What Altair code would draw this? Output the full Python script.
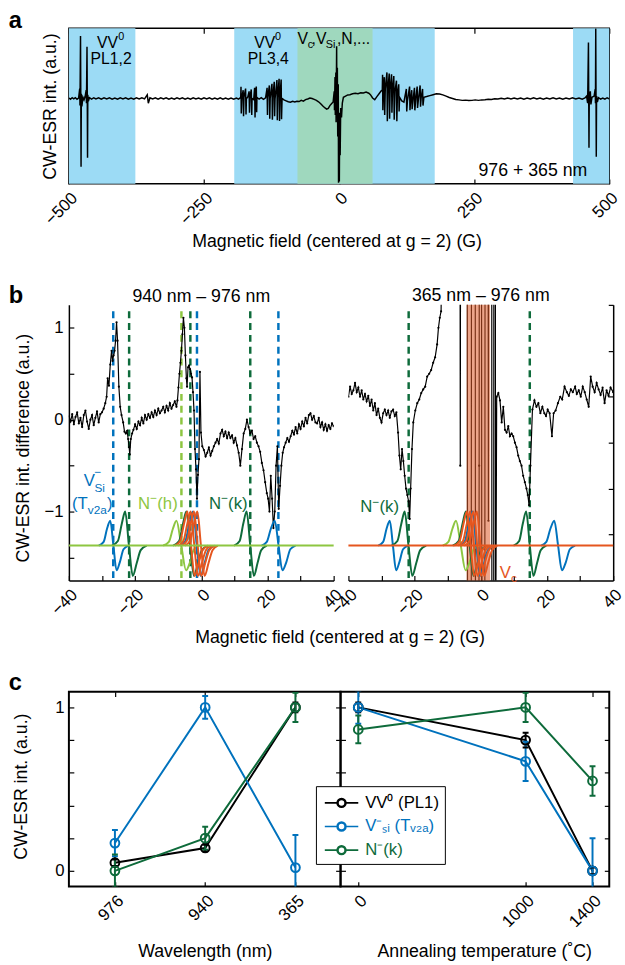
import altair as alt
import pandas as pd

FONT = "Liberation Sans"
BLUE = "#0072BD"
DKGREEN = "#0E6B3B"
LTGREEN = "#8DC641"
ORANGE = "#E5561F"
SHADE_BLUE = "#9CDBF5"
SHADE_GREEN = "#9FD8BE"
SHADE_ORANGE = "#DE5B2A"
TICK = 5

# ---------------- panel a data ----------------
A_TRACE = [
    (-500, 0.02), (-497, -0.03), (-494, 0.03), (-491, -0.02), (-488, 0.03), (-485, -0.03), (-482, 0.02),
    (-480, 0.42), (-479.5, -0.3), (-478.5, 2.64), (-478, 0.1), (-477.5, -2.88), (-477, 0.2), (-476, -0.33),
    (-474, 0.05), (-472, -0.06), (-470, 0.08), (-468, 0.35), (-467.5, -0.2), (-466.5, 2.18), (-466, 0.1),
    (-465.5, -2.5), (-465, 0.15), (-464, -0.12), (-462, 0.03), (-458, -0.03), (-454, 0.03), (-450, -0.02),
    (-445, 0.03), (-440, -0.03), (-435, 0.03), (-430, -0.02), (-425, 0.03), (-420, -0.03), (-415, 0.02),
    (-410, -0.03), (-405, 0.03), (-400, -0.02), (-395, 0.03), (-390, -0.03), (-385, 0.02), (-380, -0.03),
    (-375, 0.03), (-370, -0.02), (-365, 0.03), (-360, -0.02), (-355, 0.15), (-353, -0.2), (-350, 0.03),
    (-345, -0.02), (-340, 0.03), (-335, -0.03), (-330, 0.03), (-325, -0.02), (-320, 0.03), (-315, -0.03),
    (-310, 0.02), (-305, -0.03), (-300, 0.03), (-295, -0.02), (-290, 0.03), (-285, -0.03), (-280, 0.02),
    (-275, -0.03), (-270, 0.03), (-265, -0.02), (-260, 0.02), (-255, -0.03), (-250, 0.03), (-245, -0.02),
    (-240, 0.03), (-235, -0.03), (-230, 0.02), (-225, -0.03), (-220, 0.03), (-215, -0.03), (-210, 0.02),
    (-205, -0.03), (-200, 0.02), (-195, -0.03), (-190, 0.02), (-186, -0.03),
    (-182, 0.05), (-181.5, 0.49), (-181, -0.63), (-180, 0.02), (-177.5, 0.35), (-176.8, -0.75), (-176, 0.05),
    (-173, 0.42), (-172.2, -0.68), (-171.5, -0.02), (-169, 0.06), (-166.5, 0.3), (-165.8, -0.6), (-165, 0.04),
    (-162.5, 0.38), (-161.6, -0.7), (-161, 0.0), (-158, -0.05), (-156.3, 0.45), (-155.5, -0.8), (-155, 0.04),
    (-153.2, 0.5), (-152.5, -0.58), (-152, 0.05), (-148, -0.03), (-144, 0.03), (-140, -0.04), (-136, 0.03),
    (-133.2, 0.45), (-132.5, -0.7), (-132, 0.03), (-129, 0.55), (-128.3, -0.85), (-127.5, 0.0),
    (-124.2, 0.62), (-123.4, -0.9), (-122.5, 0.05), (-120, 0.7), (-119.3, -0.75), (-118.5, -0.02),
    (-115, 0.78), (-114.3, -0.92), (-113.5, 0.04), (-111, 0.83), (-110.2, -0.95), (-109.5, 0.02),
    (-107.2, 0.8), (-106.5, -0.88), (-105.5, 0.0), (-102, -0.06), (-98, -0.1), (-94, -0.14), (-90, -0.16),
    (-86, -0.12), (-82, -0.15), (-78, -0.12), (-74, -0.13), (-70, -0.08), (-66, -0.11), (-62, -0.05),
    (-58, -0.02), (-54, 0.02), (-50, 0.0), (-46, -0.04), (-42, -0.08), (-38, -0.14), (-34, -0.22),
    (-30, -0.32), (-26, -0.4), (-23, -0.45), (-20, -0.42), (-17, -0.3), (-14, -0.22), (-11, -0.15),
    (-9, 0.3), (-8.5, -0.5), (-7.5, 0.9), (-7, -0.7), (-6, 1.1), (-5.5, -1.0), (-4.5, 2.2), (-4, -0.6),
    (-3.2, 1.3), (-2.5, -1.6), (-1.5, 0.6), (-1, -3.55), (0, -2.2), (0.5, -3.5), (1.2, -0.6), (2, -2.4),
    (3, -0.4), (4.5, -0.8), (6, -0.2), (8, 0.05), (12, 0.1), (16, 0.15), (20, 0.16), (25, 0.2), (30, 0.22),
    (35, 0.2), (40, 0.24), (45, 0.23), (50, 0.27), (55, 0.22), (58, 0.16), (62, 0.02), (66, -0.05),
    (70, 0.08), (74, 0.2), (78, 0.32),
    (80, 0.35), (80.5, 1.0), (81, -0.5), (82, 0.38), (83.7, 0.9), (84.4, -0.7), (85.5, 0.4), (88.6, 1.1),
    (89.3, -0.96), (90.5, 0.42), (92.8, 1.05), (93.5, -0.85), (94.5, 0.4), (97.1, 1.02), (97.8, -0.6),
    (99, 0.38), (101.3, 0.95), (102, -0.9), (103.5, 0.3), (106.2, 0.75), (106.9, -0.96), (108, 0.2),
    (110.4, 0.6), (111.1, -0.55), (112, 0.05), (116, -0.1), (120, -0.15),
    (124.5, 0.4), (125.2, -0.55), (126.5, -0.1), (130.5, 0.5), (131.2, -0.5), (132.5, -0.05), (134.5, 0.35),
    (135.2, -0.45), (137, -0.05), (139.5, 0.45), (140.2, -0.5), (142, 0.0), (144.5, 0.5), (145.2, -0.4),
    (147, 0.0), (150, 0.55), (150.7, -0.35), (152, 0.05), (154.5, 0.4), (155.3, -0.3), (157, 0.05),
    (162, 0.08), (168, 0.12), (174, 0.16), (180, 0.2), (186, 0.19), (192, 0.15), (198, 0.1), (204, 0.04),
    (210, 0.0), (216, -0.04), (222, -0.06), (228, -0.08), (234, -0.07), (240, -0.09), (246, -0.08),
    (252, -0.06), (258, -0.08), (264, -0.06), (270, -0.05), (276, -0.03), (282, -0.04), (288, -0.01),
    (294, -0.02), (300, 0.01), (306, -0.02), (312, 0.02), (318, -0.02), (324, 0.02), (330, -0.02),
    (336, 0.02), (342, -0.03), (348, 0.02), (354, -0.02), (360, 0.03), (366, -0.02), (372, 0.02),
    (378, -0.03), (384, 0.02), (390, -0.02), (396, 0.03), (402, -0.02), (408, 0.02), (414, -0.03),
    (420, 0.02), (426, -0.02), (432, 0.03), (438, -0.02), (444, 0.02), (450, -0.03), (455, 0.02),
    (458, 0.1), (460, -0.2), (461.5, 2.36), (462, 0.1), (462.5, -2.08), (463, 0.05), (465, 0.3),
    (466, -0.25), (468, 0.05), (472, 0.1), (474, 0.4), (474.5, -0.2), (475, 2.95), (475.5, 0.2),
    (476, -2.46), (476.5, 0.1), (478, -0.15), (480, 0.03), (484, -0.03), (488, 0.02), (492, -0.03),
    (496, 0.03), (500, -0.02),
]
A_SHADE_FROM = [-500, -194, 433, -77]
A_SHADE_TO = [-377, 177, 500, 62]
A_SHADE_KIND = ["VV0", "VV0", "VV0", "mixed"]
A_TEXT = ["VV", "PL1,2", "VV", "PL3,4", "V", ",V", ",N,..."]
A_TEXT_X = [-448, -460, -157, -169, -77, -51, -4]
A_TEXT_Y = [2.15, 1.46, 2.15, 1.46, 2.29, 2.29, 2.29]
A_SMALL = ["0", "0", "c", "Si"]
A_SMALL_X = [-408.5, -118.7, -58, -24.5]
A_SMALL_Y = [2.46, 2.46, 2.12, 2.12]
A_NOTE = ["976 + 365 nm"]
A_NOTE_X = [258]
A_NOTE_Y = [-3.26]
A_XTICKS = [-500, -250, 0, 250, 500]
A_YTICKS = [-3, -2, -1, 0, 1, 2]

# ---------------- panel b data ----------------
B_LEFT_TRACE = [
    (-40, 0.04), (-39.5, -0.02), (-39, 0.06), (-38.5, -0.05), (-38, 0.03), (-37.5, 0.08), (-37, -0.04),
    (-36.5, 0.02), (-36, -0.08), (-35.5, 0.05), (-35, 0.1), (-34.5, -0.02), (-34, -0.1), (-33.5, 0.0),
    (-33, 0.05), (-32.5, -0.06), (-32, 0.02), (-31.5, 0.09), (-31, -0.03), (-30.5, 0.06), (-30, 0.08),
    (-29.5, 0.12), (-29, 0.18), (-28.6, 0.25), (-28.3, 0.45), (-27.9, 0.37), (-27.5, 0.6), (-27.1, 0.75),
    (-26.8, 0.64), (-26.5, 0.7), (-26.2, 0.75), (-25.9, 0.86), (-25.6, 1.06), (-25.3, 0.86), (-24.9, 0.36),
    (-24.5, 0.14), (-24.1, 0.05), (-23.6, -0.03), (-23.2, -0.13), (-22.8, -0.15), (-22.4, -0.12),
    (-22.1, -0.21), (-21.8, -0.3), (-21.6, -0.38), (-21.3, -0.21), (-20.9, -0.15), (-20.5, -0.11),
    (-20.0, -0.05), (-19.5, -0.1), (-19.0, -0.02), (-18.5, -0.06), (-18.0, 0.02), (-17.5, -0.04),
    (-17.0, 0.05), (-16.5, 0.0), (-16.0, 0.06), (-15.5, 0.02), (-15.0, 0.08), (-14.5, 0.03), (-14.0, 0.1),
    (-13.5, 0.05), (-13.0, 0.12), (-12.5, 0.07), (-12.0, 0.1), (-11.5, 0.14), (-11.0, 0.08), (-10.5, 0.15),
    (-10.0, 0.1), (-9.5, 0.18), (-9.0, 0.12), (-8.5, 0.16), (-8.0, 0.2), (-7.5, 0.14), (-7.2, 0.21),
    (-6.9, 0.35), (-6.6, 0.5), (-6.3, 0.62), (-6.0, 0.75), (-5.7, 0.93), (-5.4, 1.11), (-5.1, 1.0),
    (-4.8, 0.7), (-4.5, 0.45), (-4.3, 0.36), (-4.0, 0.57), (-3.7, 0.59), (-3.4, 0.55), (-3.1, 0.5),
    (-2.8, 0.46), (-2.5, 0.3), (-2.2, 0.1), (-1.9, -0.32), (-1.6, -0.54), (-1.3, -0.86), (-1.0, -0.6),
    (-0.7, -0.43), (-0.4, 0.52), (-0.1, -0.14), (0.3, -0.29), (0.8, -0.33), (1.3, -0.4), (1.8, -0.36),
    (2.3, -0.3), (2.8, -0.39), (3.3, -0.34), (3.8, -0.29), (4.3, -0.25), (4.8, -0.21), (5.3, -0.26),
    (5.8, -0.15), (6.3, -0.11), (6.8, -0.18), (7.3, -0.13), (7.8, -0.2), (8.3, -0.14), (8.8, -0.2),
    (9.3, -0.17), (9.8, -0.25), (10.3, -0.2), (10.8, -0.28), (11.3, -0.36), (11.8, -0.5), (12.3, -0.32),
    (12.8, -0.15), (13.3, -0.1), (13.8, 0.0), (14.3, -0.08), (14.8, -0.15), (15.3, -0.12), (15.8, -0.21),
    (16.3, -0.18), (16.8, -0.25), (17.3, -0.29), (17.8, -0.35), (18.3, -0.47), (18.8, -0.55), (19.3, -0.68),
    (19.8, -0.8), (20.2, -0.86), (20.6, -1.0), (21.0, -0.61), (21.4, -0.86), (21.8, -1.18), (22.2, -1.0),
    (22.6, -0.5), (23.0, -0.29), (23.4, -0.97), (23.8, -0.72), (24.2, -0.5), (24.6, -0.36), (25.0, -0.3),
    (25.5, -0.25), (26.0, -0.2), (26.5, -0.24), (27.0, -0.18), (27.5, -0.12), (28.0, -0.16), (28.5, -0.08),
    (29.0, -0.15), (29.5, -0.05), (30.0, -0.1), (30.5, -0.02), (31.0, -0.07), (31.5, 0.02), (32.0, -0.04),
    (32.5, 0.05), (33.0, 0.07), (33.5, 0.0), (34.0, 0.04), (34.5, -0.03), (35.0, -0.04), (35.5, 0.02),
    (36.0, -0.08), (36.5, -0.03), (37.0, -0.11), (37.5, -0.05), (38.0, -0.12), (38.5, -0.06), (39.0, -0.1),
    (39.5, -0.04), (40.0, -0.07),
]
B_RIGHT_TRACE = [
    (-40, 0.25), (-39.5, 0.36), (-39, 0.28), (-38.5, 0.32), (-38, 0.4), (-37.5, 0.3), (-37, 0.35),
    (-36.5, 0.25), (-36, 0.32), (-35.5, 0.22), (-35, 0.28), (-34.5, 0.2), (-34, 0.26), (-33.5, 0.15),
    (-33, 0.22), (-32.5, 0.1), (-32, 0.18), (-31.5, 0.05), (-31, 0.12), (-30.5, 0.02), (-30, -0.03),
    (-29.5, 0.07), (-29, 0.11), (-28.5, 0.05), (-28, 0.1), (-27.5, 0.02), (-27, 0.09), (-26.5, 0.11),
    (-26, 0.04), (-25.5, 0.08), (-25, -0.14), (-24.6, -0.39), (-24.2, -0.54), (-23.8, -0.32), (-23.4, -0.45),
    (-23.0, -0.61), (-22.6, -0.75), (-22.2, -0.82), (-21.8, -0.89), (-21.5, -1.08), (-21.2, -0.75),
    (-20.8, -0.32), (-20.4, -0.03), (-19.8, 0.1), (-19.2, 0.18), (-18.6, 0.22), (-18.0, 0.29), (-17.4, 0.33),
    (-16.8, 0.36), (-16.2, 0.47), (-15.6, 0.5), (-15.0, 0.54), (-14.4, 0.62), (-13.8, 0.68), (-13.2, 0.82),
    (-12.8, 1.0), (-12.4, 1.11), (-12.0, 1.18), (-11.5, 3.0), (-6.3, 3.0), (-6.2, -0.5), (-6.1, 3.0),
    (-4.1, 3.0), (-4.0, -3.0), (-2.9, -3.0), (-2.8, 3.0), (-1.7, 3.0), (-1.6, -3.0), (-0.6, -3.0),
    (-0.5, -0.5), (-0.45, 3.0), (0.2, 3.0), (0.3, -3.0), (1.2, -3.0), (1.3, 3.0), (2.2, 3.0), (2.3, -1.1),
    (2.35, 3.0), (3.3, 3.0), (3.35, -3.0), (3.9, -3.0), (3.95, 3.0), (4.4, 3.0), (4.45, -3.0),
    (4.8, 0.25), (5.3, 0.29), (5.8, 0.21), (6.3, -0.03), (6.8, 0.14),
    (7.3, -0.11), (7.8, -0.14), (8.3, -0.07), (8.8, -0.18), (9.3, -0.15), (9.8, -0.18), (10.3, -0.25),
    (10.8, -0.3), (11.3, -0.39), (11.8, -0.45), (12.3, -0.5), (12.8, -0.61), (13.3, -0.68), (13.8, -0.75),
    (14.2, -0.82), (14.6, -0.93), (15.0, -0.5), (15.6, 0.11), (16.2, 0.21), (16.8, 0.14), (17.4, 0.18),
    (18.0, 0.07), (18.6, 0.14), (19.2, 0.07), (19.7, 0.04), (20.2, 0.11), (20.8, 0.07), (21.5, -0.18),
    (22.0, 0.07), (22.6, 0.1), (23.3, 0.18), (24.0, 0.25), (24.6, 0.22), (25.3, 0.36), (26.0, 0.3),
    (26.6, 0.26), (27.2, 0.33), (27.8, 0.3), (28.5, 0.36), (29.0, 0.28), (29.6, 0.32), (30.2, 0.25),
    (30.8, 0.36), (31.4, 0.3), (32.0, 0.22), (32.6, 0.14), (33.2, 0.47), (33.8, 0.36), (34.4, 0.3),
    (35.0, 0.4), (35.6, 0.33), (36.2, 0.27), (36.8, 0.35), (37.4, 0.18), (38.0, 0.32), (38.6, 0.26),
    (39.2, 0.35), (40.0, 0.3),
]
PROFILE_SMALL = [-1.37, -1.33, -1.19, -1.10, -1.37, -1.64, -1.55, -1.41, -1.37]
PROFILE_LARGE = [-1.37, -1.32, -1.13, -1.00, -1.37, -1.70, -1.56, -1.42, -1.37]
B_COMP_SPECIES = ["VSi", "Nk", "Nh", "Nk", "VSi", "Vc", "Vc", "Vc", "Vc", "Nk", "VSi"]
B_COMP_X = [
    [-31.0, -29.5, -28.5, -27.5, -26.55, -25.6, -24.6, -23.5, -22.0],
    [-27.0, -25.2, -24.0, -23.0, -21.85, -20.7, -19.5, -18.3, -16.5],
    [-11.5, -9.8, -8.6, -7.5, -6.05, -4.6, -3.4, -2.2, -0.5],
    [-8.5, -6.7, -5.5, -4.5, -3.35, -2.2, -1.0, 0.2, 2.0],
    [-6.3, -4.8, -3.6, -2.5, -1.35, -0.2, 1.0, 2.2, 4.0],
    [-8.0, -6.4, -5.2, -4.2, -3.1, -2.0, -0.8, 0.4, 2.0],
    [-7.0, -5.4, -4.2, -3.2, -2.1, -1.0, 0.2, 1.4, 3.0],
    [-6.0, -4.4, -3.2, -2.2, -1.1, 0.0, 1.2, 2.4, 4.0],
    [-5.0, -3.4, -2.2, -1.2, -0.1, 1.0, 2.2, 3.4, 5.0],
    [9.9, 11.6, 12.7, 13.7, 14.8, 15.9, 17.0, 18.1, 19.8],
    [18.2, 19.8, 21.0, 22.2, 23.35, 24.5, 25.7, 26.9, 28.5],
]
B_COMP_Y = [PROFILE_SMALL, PROFILE_LARGE, PROFILE_SMALL, PROFILE_LARGE, PROFILE_LARGE, PROFILE_LARGE,
            PROFILE_LARGE, PROFILE_LARGE, PROFILE_LARGE, PROFILE_LARGE, PROFILE_SMALL]
B_BASELINE_X = [-40, 40]
B_BASELINE_Y = [-1.37, -1.37]
B_DASH_L_X = [-26.6, -1.3, 23.3, -21.8, -3.3, 14.8, -6.0]
B_DASH_L_SP = ["VSi", "VSi", "VSi", "Nk", "Nk", "Nk", "Nh"]
B_DASH_R_X = [-21.8, 14.8]
B_DASH_R_SP = ["Nk", "Nk"]
B_SHADE_FROM = [-4.3]
B_SHADE_TO = [2.8]
B_SPECIES = ["VSi", "Nk", "Nh", "Vc"]
B_SPECIES_COLORS = [BLUE, DKGREEN, LTGREEN, ORANGE]
B_L_MAIN = [("V", -35.5, -0.72, "VSi"), ("(T", -39.1, -0.97, "VSi"), (")", -28.5, -0.97, "VSi"),
            ("N", -19.1, -0.97, "Nh"), ("(h)", -13.3, -0.97, "Nh"),
            ("N", 2.3, -0.97, "Nk"), ("(k)", 8.1, -0.97, "Nk")]
B_L_SMALL = [("Si", -32.3, -0.79, "VSi"), ("−", -32.3, -0.61, "VSi"), ("v2a", -34.3, -1.03, "VSi"),
             ("−", -15.4, -0.9, "Nh"), ("−", 6.0, -0.9, "Nk")]
B_R_MAIN = [("N", -36.4, -1.0, "Nk"), ("(k)", -30.6, -1.0, "Nk"), ("V", 5.7, -1.72, "Vc")]
B_R_SMALL = [("−", -32.7, -0.94, "Nk"), ("c", 9.1, -1.77, "Vc")]
B_XTICKS = [-40, -30, -20, -10, 0, 10, 20, 30, 40]
B_YTICKS_L = [-1.5, -1, -0.5, 0, 0.5, 1]
B_YTICKS_R = [1.25, 0.75, 0.25, -0.25, -0.75, -1.25]

# ---------------- panel c data ----------------
C_SERIES = ["VV0", "VSi", "Nk"]
C_SERIES_COLORS = ["black", BLUE, DKGREEN]
C_SERIES_LABELS = ["VV⁰ (PL1)", "V⁻ₛᵢ (Tᵥ₂ₐ)", "N⁻(k)"]
C_WL_POS = [1, 2, 3]
C_WL_LABELS = ["976", "940", "365"]
C_WL_VV0 = [0.05, 0.14, 1.0]
C_WL_VV0_ERR = [0.02, 0.02, 0.03]
C_WL_VSI = [0.17, 1.0, 0.02]
C_WL_VSI_ERR = [0.08, 0.07, 0.2]
C_WL_NK = [0.0, 0.2, 1.0]
C_WL_NK_ERR = [0.1, 0.07, 0.09]
C_T = [0, 1000, 1400]
C_T_VV0 = [1.0, 0.8, 0.0]
C_T_VV0_ERR = [0.03, 0.045, 0.02]
C_T_VSI = [1.0, 0.67, 0.0]
C_T_VSI_ERR = [0.1, 0.12, 0.2]
C_T_NK = [0.865, 1.0, 0.55]
C_T_NK_ERR = [0.085, 0.09, 0.09]
C_YTICKS = [0, 0.2, 0.4, 0.6, 0.8, 1]


# ---------------- helpers ----------------
def tick_axis(orient, values, **kw):
    base = dict(orient=orient, values=values, domain=False, grid=False, ticks=True, tickSize=TICK,
                offset=-TICK, tickColor="black", tickWidth=1.2, labels=False, title=None)
    base.update(kw)
    return alt.Axis(**base)


def label_kw(expr=None, angle=False, pad=6):
    d = dict(labels=True, labelFontSize=17, labelFont=FONT, labelColor="black", labelPadding=pad,
             labelFlush=False, labelOverlap=False)
    if expr:
        d["labelExpr"] = expr
    if angle:
        d.update(labelAngle=-45, labelAlign="right", labelBaseline="top")
    return d


def title_kw(text, tx, ty):
    return dict(title=text, titleFont=FONT, titleFontSize=18, titleFontWeight="normal", titleColor="black",
                titleX=tx, titleY=ty, titleBaseline="alphabetic")


def domain_axis(orient, values):
    return alt.Axis(orient=orient, values=values, domain=True, domainColor="black", domainWidth=1.5,
                    ticks=False, labels=False, grid=False, title=None, offset=0)


def letter(text, dy):
    return alt.TitleParams(text, anchor="start", dx=-61, dy=dy, fontSize=24, fontWeight="bold", font=FONT,
                           offset=0, baseline="alphabetic", frame="group", color="black")


def xy(pairs):
    return pd.DataFrame(pairs, columns=["x", "y"])


def pieces(rows):
    return pd.DataFrame(rows, columns=["t", "x", "y", "sp"])


INT_LABEL = "format(datum.value, 'd')"

# ---------------- panel a ----------------
xa = alt.Scale(domain=[-500, 500], nice=False, zero=False)
ya = alt.Scale(domain=[-3.6, 2.96], nice=False, zero=False)

a_shade = alt.Chart(pd.DataFrame({"x0": A_SHADE_FROM, "x1": A_SHADE_TO, "kind": A_SHADE_KIND})).mark_rect().encode(
    x=alt.X("x0:Q", scale=xa, axis=None), x2="x1:Q",
    color=alt.Color("kind:N", scale=alt.Scale(domain=["VV0", "mixed"], range=[SHADE_BLUE, SHADE_GREEN]),
                    legend=None))
a_trace = alt.Chart(xy(A_TRACE)).mark_line(color="black", strokeWidth=1.5, clip=True).encode(
    x=alt.X("x:Q", scale=xa, axis=tick_axis("bottom", A_XTICKS, **label_kw(angle=True),
                                             **title_kw("Magnetic field (centered at g = 2) (G)", 272, 69))),
    y=alt.Y("y:Q", scale=ya, axis=tick_axis("left", A_YTICKS, **title_kw("CW-ESR int. (a.u.)", -19, 79))))
a_text = alt.Chart(pd.DataFrame({"x": A_TEXT_X, "y": A_TEXT_Y, "t": A_TEXT})).mark_text(
    align="left", baseline="alphabetic", fontSize=16, font=FONT, color="black").encode(
    x=alt.X("x:Q", scale=xa, axis=tick_axis("top", A_XTICKS)),
    y=alt.Y("y:Q", scale=ya, axis=tick_axis("right", A_YTICKS)), text="t:N")
a_small = alt.Chart(pd.DataFrame({"x": A_SMALL_X, "y": A_SMALL_Y, "t": A_SMALL})).mark_text(
    align="left", baseline="alphabetic", fontSize=11, font=FONT, color="black").encode(
    x=alt.X("x:Q", scale=xa, axis=None), y=alt.Y("y:Q", scale=ya, axis=None), text="t:N")
a_note = alt.Chart(pd.DataFrame({"x": A_NOTE_X, "y": A_NOTE_Y, "t": A_NOTE})).mark_text(
    align="left", baseline="alphabetic", fontSize=18, font=FONT, color="black").encode(
    x=alt.X("x:Q", scale=xa, axis=None), y=alt.Y("y:Q", scale=ya, axis=None), text="t:N")

panel_a = alt.layer(a_shade, a_trace, a_text, a_small, a_note).resolve_axis(
    x="independent", y="independent").properties(
    width=549, height=158, view=alt.ViewBackground(stroke="black", strokeWidth=1.5), title=letter("a", 24))

# ---------------- panel b ----------------
xb = alt.Scale(domain=[-40, 40], nice=False, zero=False)
yb = alt.Scale(domain=[-1.75, 1.25], nice=False, zero=False)
spc = alt.Scale(domain=B_SPECIES, range=B_SPECIES_COLORS)

comp_rows = []
for i, (sp, xs, ys) in enumerate(zip(B_COMP_SPECIES, B_COMP_X, B_COMP_Y)):
    for xv, yv in zip(xs, ys):
        comp_rows.append({"comp": i, "sp": sp, "x": xv, "y": yv})
comp_df = pd.DataFrame(comp_rows)
base_df = pd.DataFrame({"x": B_BASELINE_X, "y": B_BASELINE_Y})
XB_LABELS = "datum.value % 20 == 0 ? format(datum.value, 'd') : ''"
YB_LABELS = "datum.value % 1 == 0 ? format(datum.value, 'd') : ''"


def b_panel(trace, dash_x, dash_sp, main_rows, small_rows, side, base_color, shade, title):
    dash = alt.Chart(pd.DataFrame({"x": dash_x, "sp": dash_sp})).mark_rule(
        strokeDash=[7, 5], strokeWidth=2.5).encode(
        x=alt.X("x:Q", scale=xb, axis=None),
        y=alt.YDatum(1.18, scale=yb, axis=None), y2=alt.Y2Datum(-1.75),
        color=alt.Color("sp:N", scale=spc, legend=None))
    if side == "left":
        xax = tick_axis("bottom", B_XTICKS, **label_kw(expr=XB_LABELS, angle=True),
                        **title_kw("Magnetic field (centered at g = 2) (G)", 275, 68))
        yax = tick_axis("left", B_YTICKS_L, **label_kw(expr=YB_LABELS),
                        **title_kw("CW-ESR int. difference (a.u.)", -46, 145))
    else:
        xax = tick_axis("bottom", B_XTICKS, **label_kw(expr=XB_LABELS, angle=True))
        yax = tick_axis("right", B_YTICKS_R)
    tr = alt.Chart(xy(trace)).mark_line(
        color="black", strokeWidth=1.2, clip=True,
        point=alt.OverlayMarkDef(filled=True, size=5, color="black", opacity=1, clip=True)).encode(
        x=alt.X("x:Q", scale=xb, axis=xax), y=alt.Y("y:Q", scale=yb, axis=yax))
    curves = alt.Chart(comp_df).mark_line(strokeWidth=2, interpolate="monotone").encode(
        x=alt.X("x:Q", scale=xb, axis=domain_axis("bottom", B_XTICKS)),
        y=alt.Y("y:Q", scale=yb, axis=domain_axis(side, B_YTICKS_L)),
        color=alt.Color("sp:N", scale=spc, legend=None), detail="comp:N")
    base = alt.Chart(base_df).mark_line(strokeWidth=2, color=base_color).encode(
        x=alt.X("x:Q", scale=xb, axis=None), y=alt.Y("y:Q", scale=yb, axis=None))
    main = alt.Chart(pieces(main_rows)).mark_text(
        align="left", baseline="alphabetic", fontSize=17, font=FONT).encode(
        x=alt.X("x:Q", scale=xb, axis=None), y=alt.Y("y:Q", scale=yb, axis=None), text="t:N",
        color=alt.Color("sp:N", scale=spc, legend=None))
    small = alt.Chart(pieces(small_rows)).mark_text(
        align="left", baseline="alphabetic", fontSize=12, font=FONT).encode(
        x=alt.X("x:Q", scale=xb, axis=None), y=alt.Y("y:Q", scale=yb, axis=None), text="t:N",
        color=alt.Color("sp:N", scale=spc, legend=None))
    layers = [dash, tr]
    if shade:
        layers.append(alt.Chart(pd.DataFrame({"x0": B_SHADE_FROM, "x1": B_SHADE_TO})).mark_rect(
            color=SHADE_ORANGE, opacity=0.55).encode(x=alt.X("x0:Q", scale=xb, axis=None), x2="x1:Q"))
    layers += [curves, base, main, small]
    return alt.layer(*layers).resolve_axis(x="independent", y="independent").properties(
        width=269, height=280,
        title=alt.TitleParams(title, fontSize=18, fontWeight="normal", font=FONT, anchor="middle", offset=2,
                              dy=3, color="black"))


b_left = b_panel(B_LEFT_TRACE, B_DASH_L_X, B_DASH_L_SP, B_L_MAIN, B_L_SMALL, "left", LTGREEN, False,
                 "940 nm – 976 nm")
b_right = b_panel(B_RIGHT_TRACE, B_DASH_R_X, B_DASH_R_SP, B_R_MAIN, B_R_SMALL, "right", ORANGE, True,
                  "365 nm – 976 nm")
panel_b = alt.hconcat(b_left, b_right, spacing=15, bounds="flush").properties(title=letter("b", 40))


# ---------------- panel c ----------------
def c_frame(xs, vv0, vv0e, vsi, vsie, nk, nke):
    rows = []
    for name, vals, errs in (("VV0", vv0, vv0e), ("VSi", vsi, vsie), ("Nk", nk, nke)):
        for xv, v, e in zip(xs, vals, errs):
            rows.append({"x": xv, "y": v, "lo": v - e, "hi": v + e, "series": name})
    return pd.DataFrame(rows)


yc = alt.Scale(domain=[-0.096, 1.096], nice=False, zero=False)
# legend glyph: line segments either side of a ring (ring keeps its centre empty even if filled)
PATH = ("M-1.7,0L-0.45,0M0.45,0L1.7,0"
        "M-0.45,0A0.45,0.45,0,1,1,0.45,0A0.45,0.45,0,1,1,-0.45,0Z"
        "M-0.36,0A0.36,0.36,0,1,0,0.36,0A0.36,0.36,0,1,0,-0.36,0Z")
label_map = " : ".join(f"datum.value === '{k}' ? '{v}'" for k, v in zip(C_SERIES, C_SERIES_LABELS)) + " : ''"
color_map = " : ".join(f"datum.value === '{k}' ? '{v}'" for k, v in zip(C_SERIES, C_SERIES_COLORS)) + " : 'black'"
LEG = alt.Legend(orient="none", legendX=-25, legendY=96, title=None, direction="vertical", fillColor="white",
                 strokeColor="black", padding=6, symbolType=PATH, symbolSize=400, symbolStrokeWidth=1.6,
                 symbolFillColor="white", symbolOpacity=1, symbolOffset=9, labelOffset=13, labelFont=FONT,
                 labelFontSize=17, labelExpr=label_map, labelColor={"expr": color_map}, rowPadding=5)


def c_panel(df, xscale, xvals, bottom_axis, left_axis, legend):
    cs = alt.Scale(domain=C_SERIES, range=C_SERIES_COLORS)
    col = alt.Color("series:N", scale=cs, legend=legend)
    col_nolegend = alt.Color("series:N", scale=cs, legend=None)
    lines = alt.Chart(df).mark_line(strokeWidth=2, clip=True).encode(
        x=alt.X("x:Q", scale=xscale, axis=bottom_axis), y=alt.Y("y:Q", scale=yc, axis=left_axis),
        color=col)
    err = alt.Chart(df).mark_rule(strokeWidth=2, clip=True).encode(
        x=alt.X("x:Q", scale=xscale, axis=None), y=alt.Y("lo:Q", scale=yc, axis=None), y2="hi:Q",
        color=col_nolegend)
    cap_lo = alt.Chart(df).mark_tick(orient="horizontal", size=6, thickness=2, opacity=1, clip=True).encode(
        x=alt.X("x:Q", scale=xscale, axis=None), y=alt.Y("lo:Q", scale=yc, axis=None), color=col_nolegend)
    cap_hi = alt.Chart(df).mark_tick(orient="horizontal", size=6, thickness=2, opacity=1, clip=True).encode(
        x=alt.X("x:Q", scale=xscale, axis=None), y=alt.Y("hi:Q", scale=yc, axis=None), color=col_nolegend)
    pts = alt.Chart(df).mark_point(shape="circle", filled=False, size=80, strokeWidth=2, opacity=1,
                                   clip=True).encode(
        x=alt.X("x:Q", scale=xscale, axis=tick_axis("top", xvals)),
        y=alt.Y("y:Q", scale=yc, axis=tick_axis("right", C_YTICKS)), color=col)
    return alt.layer(lines, err, cap_lo, cap_hi, pts).resolve_axis(x="independent", y="independent")


wl_expr = " : ".join(f"datum.value == {p} ? '{l}'" for p, l in zip(C_WL_POS, C_WL_LABELS)) + " : ''"
c_left = c_panel(
    c_frame(C_WL_POS, C_WL_VV0, C_WL_VV0_ERR, C_WL_VSI, C_WL_VSI_ERR, C_WL_NK, C_WL_NK_ERR),
    alt.Scale(domain=[0.49, 3.5], nice=False, zero=False), C_WL_POS,
    tick_axis("bottom", C_WL_POS, **label_kw(expr=wl_expr, angle=True), **title_kw("Wavelength (nm)", 138, 76)),
    tick_axis("left", C_YTICKS,
              **label_kw(expr="datum.value == 0 || datum.value == 1 ? format(datum.value, 'd') : ''", pad=5),
              **title_kw("CW-ESR int. (a.u.)", -48, 96)),
    None).properties(width=276, height=198, view=alt.ViewBackground(stroke="black", strokeWidth=2))
c_right = c_panel(
    c_frame(C_T, C_T_VV0, C_T_VV0_ERR, C_T_VSI, C_T_VSI_ERR, C_T_NK, C_T_NK_ERR),
    alt.Scale(domain=[-106, 1500], nice=False, zero=False), C_T,
    tick_axis("bottom", C_T, **label_kw(expr=INT_LABEL, angle=True),
              **title_kw("Annealing temperature (˚C)", 146, 76)),
    tick_axis("left", C_YTICKS),
    LEG).properties(width=273, height=198, view=alt.ViewBackground(stroke="black", strokeWidth=2))
panel_c = alt.hconcat(c_left, c_right, spacing=0, bounds="flush").resolve_scale(color="independent").properties(
    title=letter("c", 24))

lower = alt.vconcat(panel_b, panel_c, spacing=25).resolve_scale(color="independent")
chart = alt.vconcat(panel_a, lower, spacing=33).resolve_scale(color="independent").properties(
    padding={"left": 8, "top": 0, "right": 0, "bottom": 0}, background="white"
).configure(font=FONT).configure_view(stroke=None).configure_title(font=FONT, color="black")

chart.save("out.html", embed_options={"renderer": "svg", "actions": False})
